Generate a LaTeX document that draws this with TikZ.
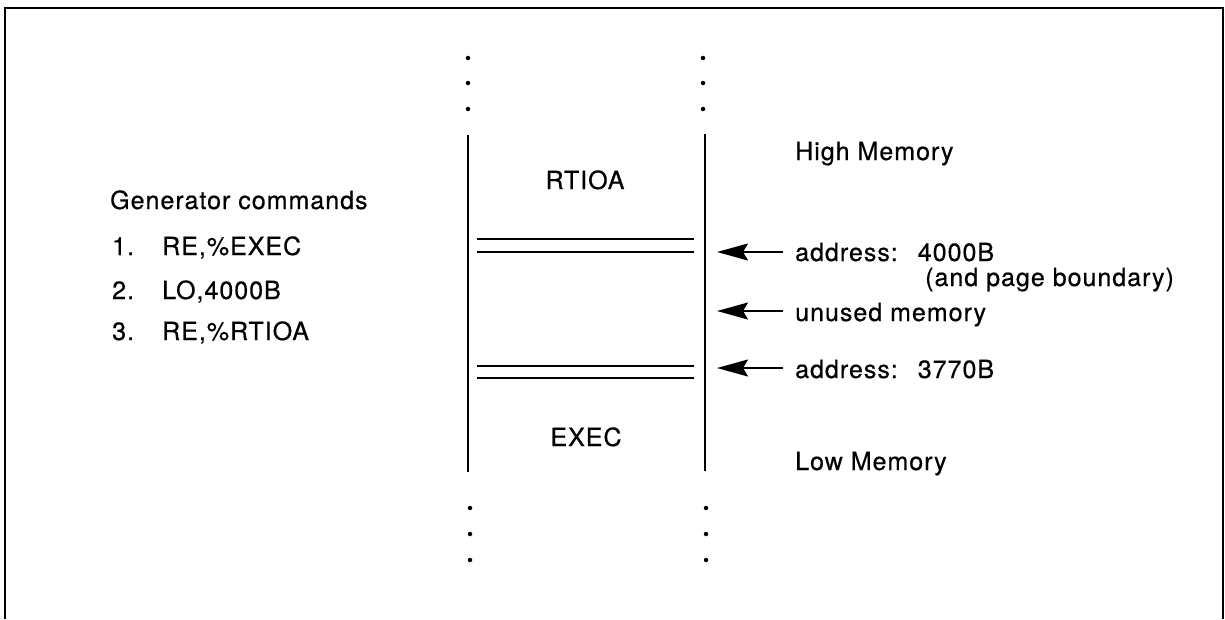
\documentclass[tikz,border=0pt]{standalone}
\usepackage{fontspec}
\setmainfont{TeX Gyre Heros}[LetterSpace=4,FakeBold=0.6]
\usetikzlibrary{arrows.meta}
\tikzset{
  lbl/.style={font=\fontsize{25}{29}\selectfont, inner sep=0pt, anchor=base west},
  clbl/.style={font=\fontsize{25}{29}\selectfont, inner sep=0pt, anchor=base},
  wall/.style={line width=2.2pt},
  bound/.style={line width=1.8pt},
  ptr/.style={line width=1.8pt, -{Stealth[length=31pt,width=17pt,inset=5pt]}},
  dotmark/.style={circle, fill=black, inner sep=0pt, minimum size=4.5pt}
}
\begin{document}
\begin{tikzpicture}[x=1pt,y=-1pt]
\useasboundingbox (0,0) rectangle (1225,619);
% frame (open at the bottom)
\draw[line width=2.2pt] (5,619) -- (5,8) -- (1223,8) -- (1223,619);
% dots
\foreach \yy/\n in {58/1,83/2,109/3}{
  \node[dotmark] (tl\n) at (468,\yy) {};
  \node[dotmark] (tr\n) at (703,\yy) {};
}
\foreach \yy/\n in {508/1,534/2,560/3}{
  \node[dotmark] (bl\n) at (470,\yy) {};
  \node[dotmark] (br\n) at (706,\yy) {};
}
% memory walls
\coordinate (lwt) at (468,135); \coordinate (lwb) at (468,472);
\coordinate (rwt) at (705,134); \coordinate (rwb) at (705,471);
\draw[wall] (lwt) -- (lwb);
\draw[wall] (rwt) -- (rwb);
% boundaries
\coordinate (b1a) at (477,239); \coordinate (b1b) at (694,239);
\coordinate (b2a) at (477,252); \coordinate (b2b) at (694,252);
\coordinate (b3a) at (477,366); \coordinate (b3b) at (694,366);
\coordinate (b4a) at (477,378); \coordinate (b4b) at (694,378);
\draw[bound] (b1a) -- (b1b);
\draw[bound] (b2a) -- (b2b);
\draw[bound] (b3a) -- (b3b);
\draw[bound] (b4a) -- (b4b);
% block labels
\node[clbl] (rtioa) at (585,189) {RTIOA};
\node[clbl] (exec) at (586,446) {EXEC};
% left text
\node[lbl] (gen) at (110,209) {Generator commands};
\node[lbl] (n1) at (112,255) {1.};
\node[lbl] (c1) at (162,255) {RE,\%EXEC};
\node[lbl] (n2) at (112,299) {2.};
\node[lbl] (c2) at (162,299) {LO,4000B};
\node[lbl] (n3) at (112,340) {3.};
\node[lbl] (c3) at (162,340) {RE,\%RTIOA};
% right text
\node[lbl] (high) at (795,160) {High Memory};
\node[lbl] (a1) at (795,261) {address:\hspace{20pt}4000B};
\node[lbl] (pb) at (925,286) {(and page boundary)};
\node[lbl] (un) at (795,321) {unused memory};
\node[lbl] (a2) at (795,378) {address:\hspace{20pt}3770B};
\node[lbl] (low) at (795,470) {Low Memory};
% pointers
\coordinate (p1s) at (783,252); \coordinate (p1e) at (717,252);
\coordinate (p2s) at (783,311); \coordinate (p2e) at (717,311);
\coordinate (p3s) at (783,368); \coordinate (p3e) at (717,368);
\draw[ptr] (p1s) -- (p1e);
\draw[ptr] (p2s) -- (p2e);
\draw[ptr] (p3s) -- (p3e);
\end{tikzpicture}
\end{document}
